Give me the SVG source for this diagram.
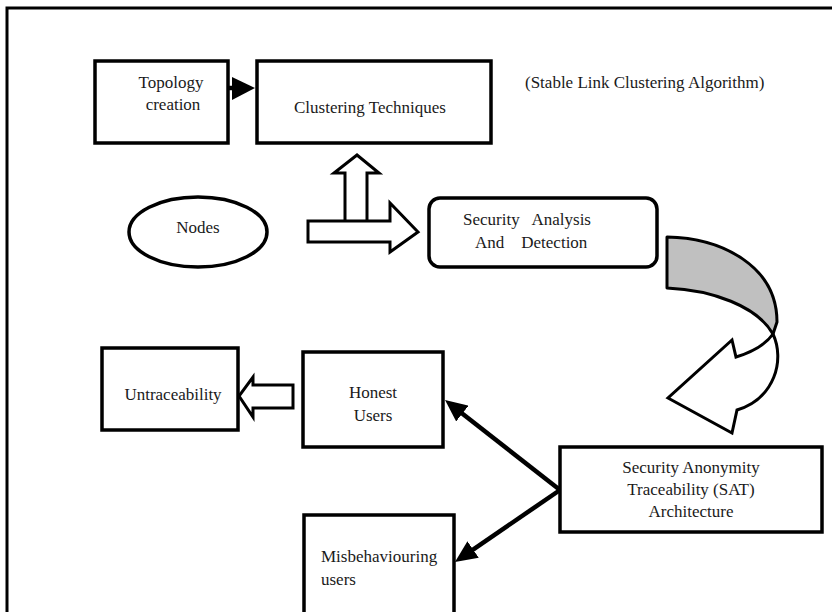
<svg xmlns="http://www.w3.org/2000/svg" width="832" height="612" viewBox="0 0 832 612">
<style>
  .box { fill: #fff; stroke: #000; stroke-width: 3.5; }
  .blk { fill: #fff; stroke: #000; stroke-width: 3; stroke-linejoin: miter; }
  .t { font-family: "Liberation Serif", "Times New Roman", serif; font-size: 17px; fill: #1a1a1a; }
  .c { text-anchor: middle; }
  .ln { stroke: #000; stroke-width: 4.5; fill: none; }
</style>
<defs>
  <marker id="ah" markerUnits="userSpaceOnUse" markerWidth="24" markerHeight="20" refX="12" refY="10" orient="auto">
    <path d="M0,0 L22,10 L0,20 Z" fill="#000"/>
  </marker>
</defs>
<rect width="832" height="612" fill="#fff"/>
<g id="frame">
  <path d="M7,612 L7,8 L832,8" fill="none" stroke="#000" stroke-width="3"/>
</g>
<g id="connectors">
  <line class="ln" x1="228" y1="88" x2="236" y2="88"/>
  <polygon points="232,77 255,88 232,100" fill="#000"/>
  <polygon class="blk" points="345,222 345,173 334,173 357,155 379,173 367,173 367,222"/>
  <polygon class="blk" points="308,221 390,221 390,203 418,232 390,252 390,242 308,242"/>
  <path d="M667,237 C722,238 777,266 777,322 L773,334 C757,306 712,290 667,288 Z" fill="#c0c0c0" stroke="#000" stroke-width="3" stroke-linejoin="round"/>
  <path d="M773,334 C785,360 775,398 737,410 L732,433 L668,398 L732,340 L736,357 C752,352 766,344 773,334 Z" fill="#fff" stroke="#000" stroke-width="3" stroke-linejoin="miter"/>
  <polygon class="blk" points="293,385 253,385 253,377 239,396 253,417 253,408 293,408"/>
  <line class="ln" x1="560" y1="490" x2="452.9" y2="406.2" marker-end="url(#ah)"/>
  <line class="ln" x1="560" y1="490" x2="463.2" y2="556.3" marker-end="url(#ah)"/>
</g>
<g id="topology">
  <rect class="box" x="95" y="61" width="133" height="82"/>
  <text class="t c" x="171" y="88">Topology</text>
  <text class="t c" x="173" y="110">creation</text>
</g>
<g id="clustering">
  <rect class="box" x="257" y="61" width="234" height="82"/>
  <text class="t c" x="370" y="113">Clustering Techniques</text>
</g>
<g id="stable-link">
  <text class="t" x="525" y="88">(Stable Link Clustering Algorithm)</text>
</g>
<g id="nodes">
  <ellipse cx="198" cy="232" rx="69" ry="35" fill="#fff" stroke="#000" stroke-width="3.5"/>
  <text class="t c" x="198" y="233">Nodes</text>
</g>
<g id="security-analysis">
  <rect class="box" x="429" y="198" width="228" height="69" rx="11" ry="11"/>
  <text class="t" x="463" y="225" xml:space="preserve">Security   Analysis</text>
  <text class="t" x="475" y="248" xml:space="preserve">And    Detection</text>
</g>
<g id="untraceability">
  <rect class="box" x="102" y="348" width="136" height="82"/>
  <text class="t c" x="173" y="400">Untraceability</text>
</g>
<g id="honest">
  <rect class="box" x="303" y="352" width="140" height="95"/>
  <text class="t c" x="373" y="398">Honest</text>
  <text class="t c" x="373" y="421">Users</text>
</g>
<g id="sat">
  <rect class="box" x="560" y="447" width="262" height="85"/>
  <text class="t c" x="691" y="473">Security Anonymity</text>
  <text class="t c" x="691" y="495">Traceability (SAT)</text>
  <text class="t c" x="691" y="517">Architecture</text>
</g>
<g id="misbehaviouring">
  <rect class="box" x="304" y="515" width="150" height="110"/>
  <text class="t" x="321" y="562">Misbehaviouring</text>
  <text class="t" x="321" y="585">users</text>
</g>
</svg>
